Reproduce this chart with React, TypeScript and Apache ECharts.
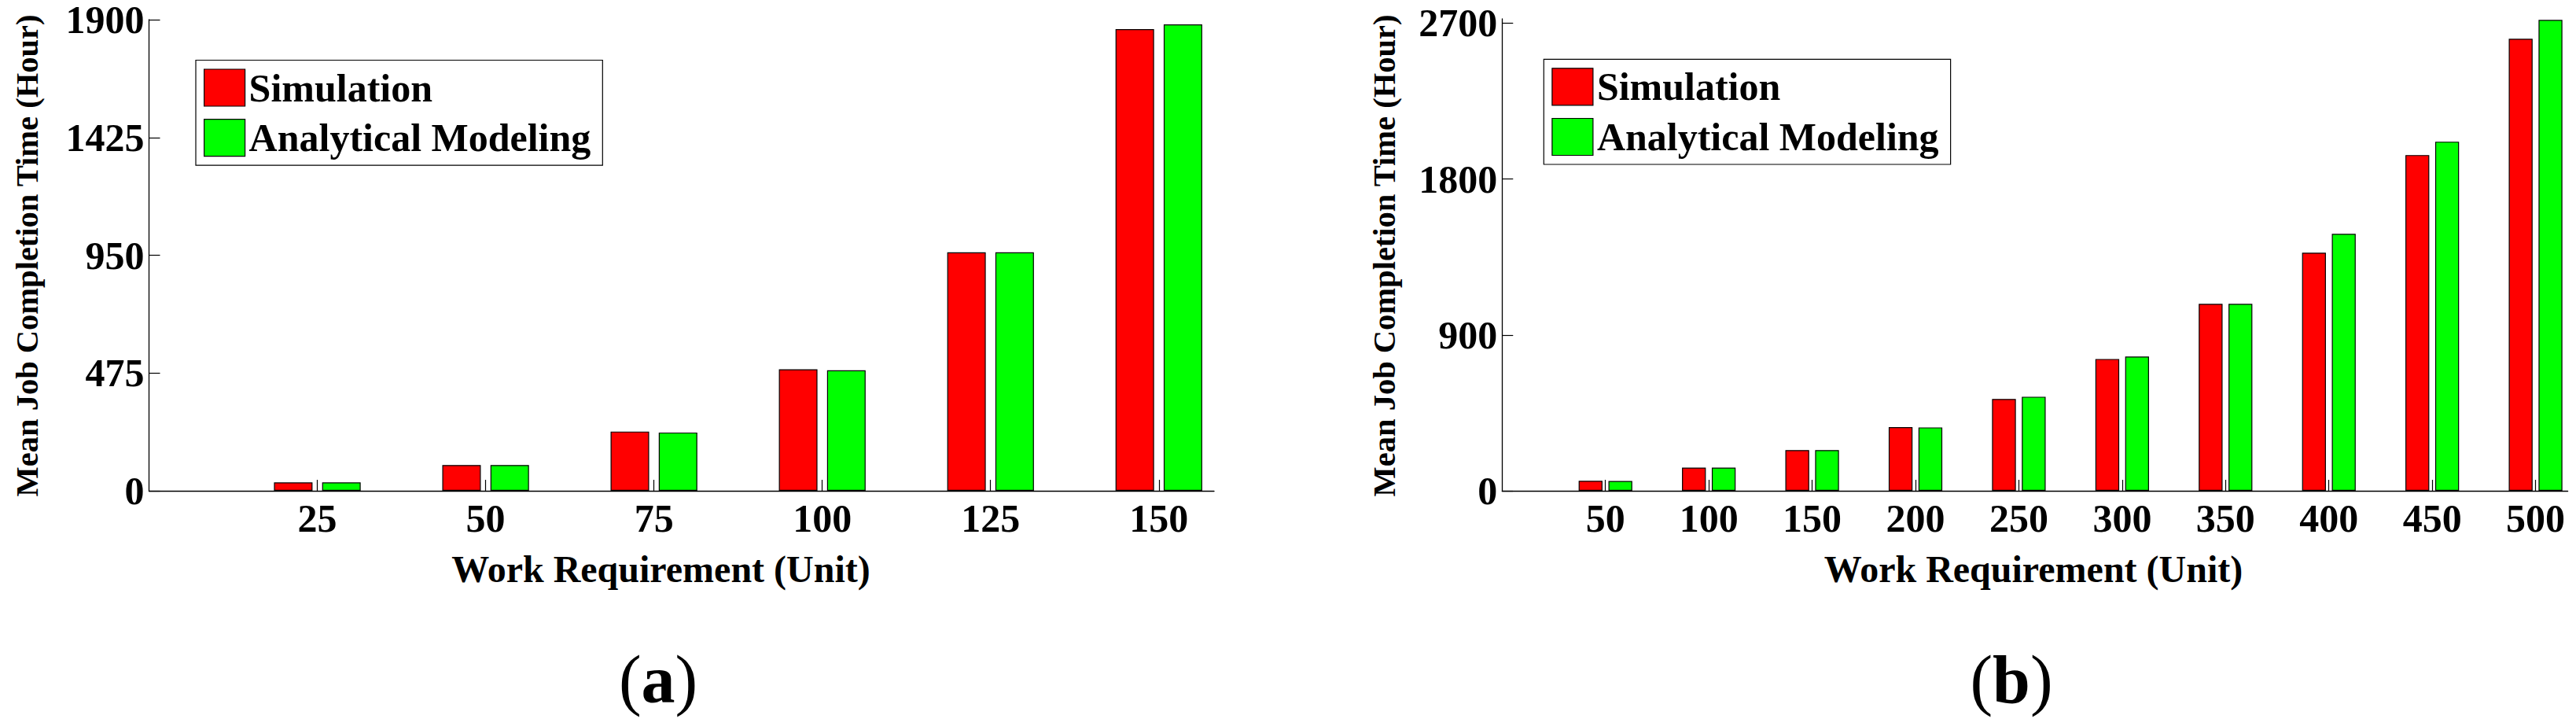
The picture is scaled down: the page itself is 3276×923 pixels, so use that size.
import React, { useEffect, useRef } from "react";
import * as echarts from "echarts";

// ---- data ----
const categoriesA = [25, 50, 75, 100, 125, 150];
const simulationA = [34, 104, 239, 490, 962, 1862];
const analyticalA = [34, 104, 235, 486, 962, 1881];
const yTicksA = [0, 475, 950, 1425, 1900];

const categoriesB = [50, 100, 150, 200, 250, 300, 350, 400, 450, 500];
const simulationB = [58, 134, 235, 368, 530, 761, 1079, 1374, 1938, 2609];
const analyticalB = [57, 134, 235, 366, 543, 775, 1079, 1483, 2015, 2718];
const yTicksB = [0, 900, 1800, 2700];

const seriesNames = ["Simulation", "Analytical Modeling"];
const xTitle = "Work Requirement (Unit)";
const yTitle = "Mean Job Completion Time (Hour)";
const panelLabels = ["a", "b"];

const FONT = "Liberation Serif";
const RED = "#ff0000";
const GREEN = "#00ff00";

function pairs(cats: number[], vals: number[]) {
  return cats.map((c, i) => [c, vals[i]]);
}

export default function App() {
  const ref = useRef<HTMLDivElement>(null);

  useEffect(() => {
    document.body.style.margin = "0";
    if (!ref.current) return;
    const chart = echarts.init(ref.current, undefined, { renderer: "svg" });

    const axisLabel = (vals: number[], margin: number, lineHeight?: number) => ({
      customValues: vals,
      formatter: (v: number) => String(v),
      fontFamily: FONT,
      fontWeight: "bold" as const,
      fontSize: 50,
      color: "#000",
      margin,
      ...(lineHeight ? { lineHeight } : {}),
    });
    const axisTick = (vals: number[]) => ({
      show: true,
      inside: true,
      length: 14,
      customValues: vals,
      lineStyle: { color: "#000", width: 1.2 },
    });
    const axisLine = { show: true, onZero: false, lineStyle: { color: "#000", width: 1.3 } };

    const legendBase = {
      orient: "vertical" as const,
      data: seriesNames,
      icon: "rect",
      itemWidth: 52,
      itemHeight: 47,
      itemGap: 13.7,
      padding: [10, 15, 10, 10],
      borderColor: "#000",
      borderWidth: 1.2,
      backgroundColor: "#fff",
      itemStyle: { borderColor: "#000", borderWidth: 1.2 },
      textStyle: {
        fontFamily: FONT,
        fontWeight: "bold" as const,
        fontSize: 50,
        lineHeight: 47,
        color: "#000",
      },
      selectedMode: false,
    };

    const barBase = {
      type: "bar" as const,
      barGap: "25%",
      emphasis: { disabled: true },
    };

    const titleText = (x: number, y: number, text: string, size: number, rot: number) => ({
      type: "text",
      x,
      y,
      rotation: rot,
      style: {
        text,
        fontFamily: FONT,
        fontWeight: "bold",
        fontSize: size,
        fill: "#000",
        textAlign: "center",
        textVerticalAlign: "middle",
      },
    });

    const panelText = (x: number, y: number, letter: string) => ({
      type: "text",
      x,
      y,
      style: {
        text: `{p|(}{b|${letter}}{p|)}`,
        fill: "#000",
        textAlign: "center",
        textVerticalAlign: "middle",
        rich: {
          p: { fontFamily: FONT, fontWeight: "normal", fontSize: 86, fill: "#000" },
          b: { fontFamily: FONT, fontWeight: "bold", fontSize: 86, fill: "#000" },
        },
      },
    });

    chart.setOption({
      animation: false,
      backgroundColor: "#fff",
      grid: [
        { left: 189.5, top: 24.3, width: 1354.5, height: 599.7, containLabel: false },
        { left: 1910.3, top: 24, width: 1355.3, height: 600, containLabel: false },
      ],
      xAxis: [
        {
          type: "value",
          gridIndex: 0,
          min: 0,
          max: 158.2,
          axisLine,
          axisTick: axisTick(categoriesA),
          axisLabel: axisLabel(categoriesA, 10),
          splitLine: { show: false },
        },
        {
          type: "value",
          gridIndex: 1,
          min: 0,
          max: 515.6,
          axisLine,
          axisTick: axisTick(categoriesB),
          axisLabel: axisLabel(categoriesB, 10),
          splitLine: { show: false },
        },
      ],
      yAxis: [
        {
          type: "value",
          gridIndex: 0,
          min: 0,
          max: 1900,
          axisLine,
          axisTick: axisTick(yTicksA),
          axisLabel: axisLabel(yTicksA, 6, 40),
          splitLine: { show: false },
        },
        {
          type: "value",
          gridIndex: 1,
          min: 0,
          max: 2724,
          axisLine,
          axisTick: axisTick(yTicksB),
          axisLabel: axisLabel(yTicksB, 6, 40),
          splitLine: { show: false },
        },
      ],
      legend: [
        { ...legendBase, left: 249, top: 76.5 },
        { ...legendBase, left: 1963.3, top: 75.3 },
      ],
      series: [
        { ...barBase, name: seriesNames[0], xAxisIndex: 0, yAxisIndex: 0, barWidth: 49, itemStyle: { color: RED, borderColor: "#000", borderWidth: 1.2 }, data: pairs(categoriesA, simulationA) },
        { ...barBase, name: seriesNames[1], xAxisIndex: 0, yAxisIndex: 0, barWidth: 49, itemStyle: { color: GREEN, borderColor: "#000", borderWidth: 1.2 }, data: pairs(categoriesA, analyticalA) },
        { ...barBase, name: seriesNames[0], xAxisIndex: 1, yAxisIndex: 1, barWidth: 30.3, itemStyle: { color: RED, borderColor: "#000", borderWidth: 1.2 }, data: pairs(categoriesB, simulationB) },
        { ...barBase, name: seriesNames[1], xAxisIndex: 1, yAxisIndex: 1, barWidth: 30.3, itemStyle: { color: GREEN, borderColor: "#000", borderWidth: 1.2 }, data: pairs(categoriesB, analyticalB) },
      ],
      graphic: [
        titleText(34.5, 325, yTitle, 40.5, Math.PI / 2),
        titleText(1760.5, 325, yTitle, 40.5, Math.PI / 2),
        titleText(840.5, 723.6, xTitle, 48, 0),
        titleText(2586, 723.6, xTitle, 48, 0),
        panelText(837, 864, panelLabels[0]),
        panelText(2558, 864, panelLabels[1]),
      ],
    });

    return () => chart.dispose();
  }, []);

  return <div ref={ref} style={{ width: 3276, height: 923 }} />;
}
